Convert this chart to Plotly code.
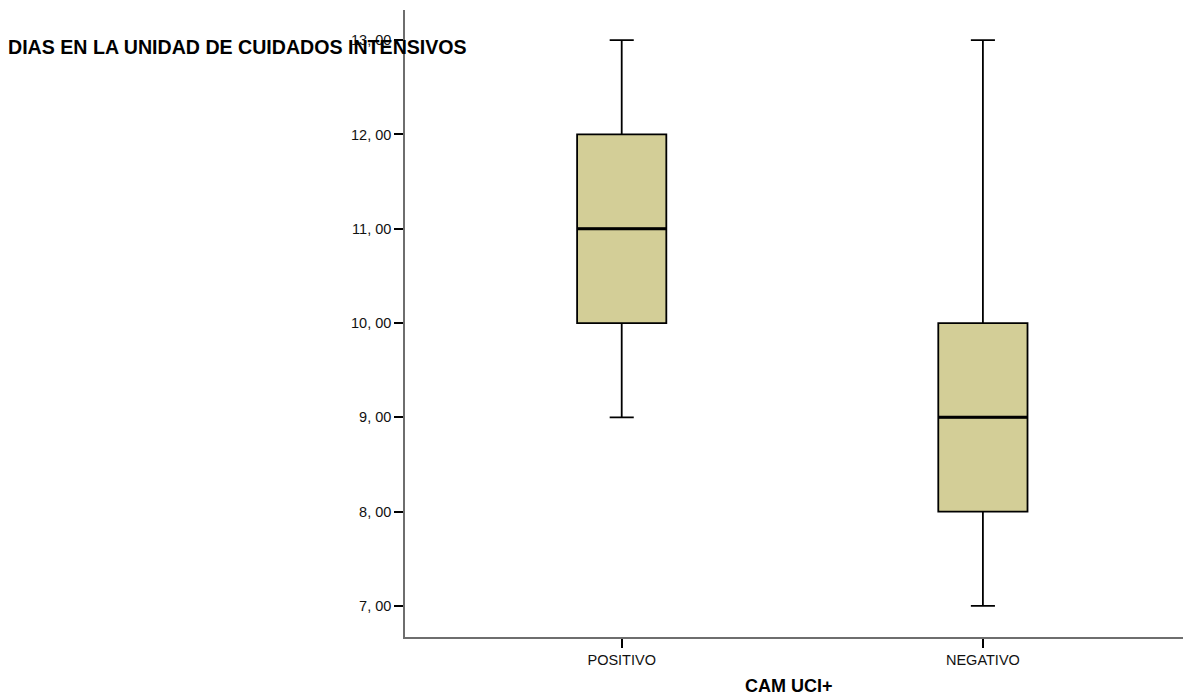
import plotly.graph_objects as go

# Grupos de CAM UCI+ y estadísticos de los días en UCI
categorias = ["POSITIVO", "NEGATIVO"]
minimo = [9, 7]
q1 = [10, 8]
mediana = [11, 9]
q3 = [12, 10]
maximo = [13, 13]

valores_eje_y = [7, 8, 9, 10, 11, 12, 13]
etiquetas_eje_y = ["7, 00", "8, 00", "9, 00", "10, 00", "11, 00", "12, 00", "13, 00"]

ANCHO_CAJA = 0.247

fig = go.Figure()
fig.add_trace(go.Box(
    x=categorias,
    q1=q1,
    median=mediana,
    q3=q3,
    lowerfence=minimo,
    upperfence=maximo,
    boxpoints=False,
    width=ANCHO_CAJA,
    whiskerwidth=0.27,
    fillcolor="#D3CE97",
    line=dict(color="black", width=1.8),
    showlegend=False,
    hoverinfo="skip",
))

# Línea de la mediana más gruesa sobre cada caja
for i, m in enumerate(mediana):
    fig.add_shape(
        type="line", xref="x", yref="y",
        x0=i - ANCHO_CAJA / 2, x1=i + ANCHO_CAJA / 2,
        y0=m, y1=m,
        line=dict(color="black", width=3),
    )

eje = dict(
    showline=True,
    linecolor="#6e6e6e",
    linewidth=1.5,
    ticks="outside",
    ticklen=9,
    tickcolor="black",
    tickwidth=1.5,
    showgrid=False,
    zeroline=False,
    tickfont=dict(size=14.5, color="#111111"),
)

fig.update_layout(
    width=1183,
    height=698,
    margin=dict(l=405, r=0, t=10, b=61),
    paper_bgcolor="white",
    plot_bgcolor="white",
    font=dict(family="Liberation Sans, Arial, sans-serif", size=14, color="#111111"),
    xaxis=dict(type="category", range=[-0.6, 1.554], **eje),
    yaxis=dict(range=[6.67, 13.32], tickvals=valores_eje_y, ticktext=etiquetas_eje_y, **eje),
    annotations=[
        dict(
            text="<b>DIAS EN LA UNIDAD DE CUIDADOS INTENSIVOS</b>",
            xref="paper", yref="paper",
            x=-0.5129, y=0.941,
            xanchor="left", yanchor="middle",
            showarrow=False,
            font=dict(size=19.6, color="black"),
        ),
        dict(
            text="<b>CAM UCI+</b>",
            xref="paper", yref="paper",
            x=0.4936, y=-0.078,
            xanchor="center", yanchor="middle",
            showarrow=False,
            font=dict(size=18, color="black"),
        ),
    ],
)

fig.write_html("out.html")
